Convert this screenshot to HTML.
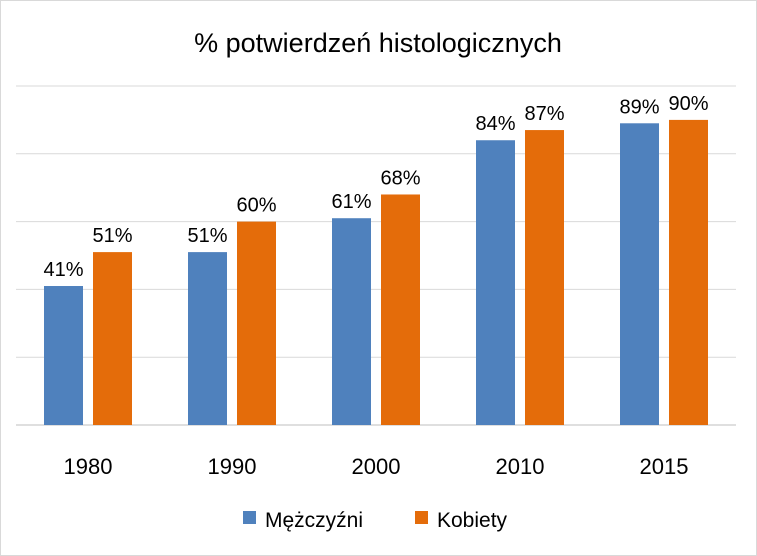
<!DOCTYPE html>
<html><head><meta charset="utf-8"><style>
html,body{margin:0;padding:0;background:#fff}
svg{display:block;font-family:"Liberation Sans","DejaVu Sans",sans-serif}
</style></head><body>
<svg id="chart" width="757" height="556" viewBox="0 0 757 556">
<rect x="0.5" y="0.5" width="756" height="555" fill="#fff" stroke="#d9d9d9"/>
<text x="378" y="52" text-anchor="middle" font-size="27" fill="#000">% potwierdzeń histologicznych</text>
<g id="grid"></g><g id="bars"></g><g id="labels"></g>
<g>
<rect x="243" y="511" width="13" height="13" fill="#4f81bd"/>
<text x="265" y="527" font-size="21" fill="#000">Mężczyźni</text>
<rect x="415" y="511" width="13" height="13" fill="#e46c0a"/>
<text x="437" y="527" font-size="21" fill="#000">Kobiety</text>
</g>
</svg>
<script>
const categories=["1980","1990","2000","2010","2015"];
const men=[41,51,61,84,89];
const women=[51,60,68,87,90];
const gridTicks=[0,20,40,60,80,100];
const NS="http://www.w3.org/2000/svg";
const x0=16,x1=736,yBase=425,yTop=86;
const band=(x1-x0)/categories.length;
const y=v=>yBase-(v/100)*(yBase-yTop);
const cx=i=>x0+band*(i+0.5);
function mk(tag,attrs,parent){const e=document.createElementNS(NS,tag);for(const k in attrs)e.setAttribute(k,attrs[k]);parent.appendChild(e);return e;}
const grid=document.getElementById('grid'),bars=document.getElementById('bars'),labels=document.getElementById('labels');
gridTicks.forEach(t=>{
 const l=mk('line',{x1:x0,x2:x1,y1:y(t),y2:y(t),stroke:t===0?'#bfbfbf':'#d9d9d9','stroke-width':1},grid);
 
 
});
const bw=39,gap=10;
categories.forEach((c,i)=>{
 const series=[[men[i],'#4f81bd','men'],[women[i],'#e46c0a','women']];
 series.forEach((s,j)=>{
  const bx=cx(i)-gap/2-bw+j*(bw+gap);
  const r=mk('rect',{x:bx,y:y(s[0]),width:bw,height:yBase-y(s[0]),fill:s[1]},bars);
  
  
  const t=mk('text',{x:bx+bw/2,y:y(s[0])-10,'text-anchor':'middle','font-size':20,fill:'#000'},labels);
  t.textContent=s[0]+'%';
  
  
 });
 const xl=mk('text',{x:cx(i),y:474,'text-anchor':'middle','font-size':22,fill:'#000'},labels);
 xl.textContent=c;
 
 
});
</script>
</body></html>
